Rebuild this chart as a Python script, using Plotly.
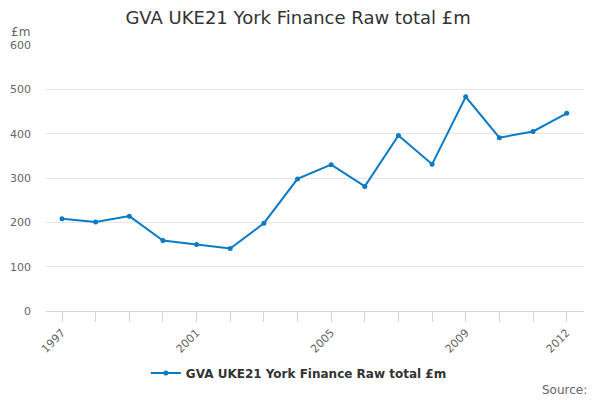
import plotly.graph_objects as go

# ── Dados ────────────────────────────────────────────────────────────────────

ANOS = list(range(1997, 2013))
VALORES = [208, 201, 214, 159, 150, 141, 198, 298, 330, 281, 396, 331, 483, 391, 405, 446]
ROTULOS_X = {1997: "1997", 2001: "2001", 2005: "2005", 2009: "2009", 2012: "2012"}
TICKS_Y = [0, 100, 200, 300, 400, 500, 600]

NOME_SERIE = "GVA UKE21 York Finance Raw total £m"
COR = "#0a7bc4"
FONTE = "DejaVu Sans, sans-serif"

# ── Plotly ───────────────────────────────────────────────────────────────────

fig = go.Figure()

fig.add_trace(go.Scatter(
    x=ANOS,
    y=VALORES,
    mode="lines+markers",
    name="<b>" + NOME_SERIE + "</b>",
    line=dict(color=COR, width=2),
    marker=dict(color=COR, size=5),
))

# a página tem 8px de margem no body, por isso a figura é 592x392
fig.update_layout(
    width=592, height=392,
    title=dict(text=NOME_SERIE, x=0.49, xanchor="center", y=0.9745, yanchor="middle",
               font=dict(size=18, color="#333333", family=FONTE)),
    font=dict(family=FONTE, color="#666666", size=11),
    plot_bgcolor="white",
    paper_bgcolor="white",
    margin=dict(l=38, r=16, t=37, b=89),
    showlegend=True,
    legend=dict(orientation="h", x=0.47, xanchor="center", y=-0.233, yanchor="middle",
                font=dict(size=12, color="#333333", family=FONTE),
                itemwidth=30),
    xaxis=dict(
        range=[1996.524, 2012.515],
        tickvals=ANOS,
        ticktext=[ROTULOS_X.get(a, "") for a in ANOS],
        tickangle=-45,
        ticks="outside", ticklen=10, tickcolor="#ccd6eb",
        showline=True, linecolor="#ccd6eb", linewidth=1,
        showgrid=False, zeroline=False, automargin=False,
        tickfont=dict(size=11, color="#666666"),
    ),
    yaxis=dict(
        range=[0, 600],
        tickvals=TICKS_Y,
        gridcolor="#e6e6e6", gridwidth=1,
        zeroline=False, showline=False, automargin=False,
        ticklabelstandoff=14,
        tickfont=dict(size=11, color="#666666"),
    ),
    annotations=[
        dict(text="£m", xref="paper", yref="paper", x=-0.048, y=1.049,
             xanchor="center", yanchor="middle", showarrow=False,
             font=dict(size=12, color="#666666")),
        dict(text="Source:", xref="paper", yref="paper", x=1.009, y=-0.297,
             xanchor="right", yanchor="middle", showarrow=False,
             font=dict(size=12, color="#666666")),
    ],
)

fig.write_html("out.html")
